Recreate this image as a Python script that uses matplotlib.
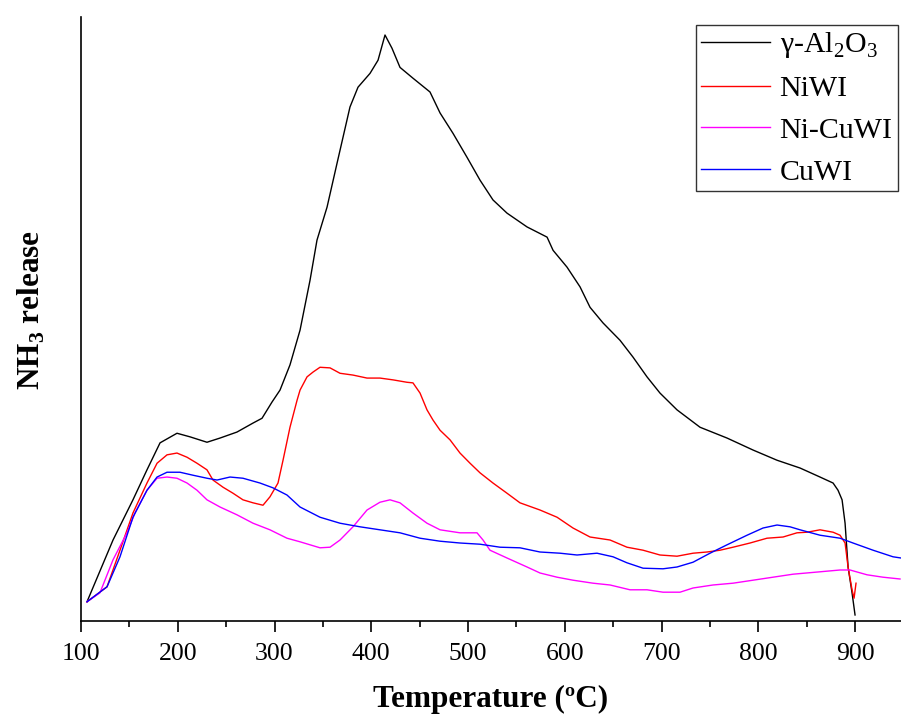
import numpy as np
import matplotlib.pyplot as plt
from matplotlib.ticker import MultipleLocator

plt.rcParams['font.family'] = ['Liberation Serif', 'DejaVu Serif']
plt.rcParams['mathtext.fontset'] = 'custom'
plt.rcParams['mathtext.rm'] = 'Liberation Serif'
plt.rcParams['mathtext.bf'] = 'Liberation Serif:bold'

# TPD profiles, NH3 signal in arbitrary units
T_al2o3 = [106.2, 133.1, 153.7, 168.2, 181.7, 199.2, 212.7, 230.2, 243.7, 261.2,
           277.8, 287.1, 297.4, 305.7, 316.0, 326.4, 336.7, 343.9, 354.3, 364.6,
           378.0, 386.3, 398.7, 407.0, 414.2, 421.4, 429.7, 443.1, 460.7, 471.1,
           484.5, 499.0, 512.4, 525.8, 540.3, 561.0, 581.7, 587.9, 602.3, 615.8,
           626.1, 639.5, 657.1, 670.5, 685.0, 698.4, 716.0, 739.8, 767.7, 794.6,
           819.4, 843.2, 863.8, 877.3, 882.4, 886.6, 889.7, 892.8, 896.9, 900.0]
I_al2o3 = [3.2, 13.5, 20.2, 25.2, 29.7, 31.3, 30.7, 29.8, 30.5, 31.5,
           33.0, 33.8, 36.5, 38.5, 42.7, 48.5, 56.8, 63.5, 69.0, 76.3,
           85.7, 89.0, 91.3, 93.5, 97.7, 95.5, 92.3, 90.5, 88.2, 84.7,
           81.3, 77.3, 73.5, 70.2, 68.0, 65.7, 64.0, 61.8, 59.0, 55.7,
           52.3, 49.7, 46.8, 44.0, 40.7, 38.0, 35.2, 32.3, 30.5, 28.5,
           26.8, 25.5, 24.0, 23.0, 21.8, 20.2, 16.3, 9.0, 4.7, 1.0]

T_ni = [106.2, 126.9, 140.3, 153.7, 168.2, 178.6, 188.9, 199.2, 209.6, 219.9,
        230.2, 236.4, 246.8, 257.1, 267.4, 277.8, 288.1, 295.3, 303.6, 308.8,
        316.0, 323.3, 326.4, 333.6, 339.8, 347.0, 357.4, 367.7, 381.1, 395.6,
        409.0, 422.5, 436.9, 443.1, 450.4, 457.6, 463.8, 471.1, 481.4, 491.7,
        502.1, 512.4, 525.8, 540.3, 553.7, 574.4, 592.0, 608.5, 626.1, 646.8,
        664.3, 680.9, 698.4, 716.0, 732.6, 747.0, 760.5, 773.9, 791.5, 809.0,
        825.6, 840.0, 850.4, 863.8, 877.3, 884.5, 889.7, 892.8, 896.9, 899.0, 901.0]
I_ni = [3.2, 5.7, 11.8, 18.0, 23.0, 26.3, 27.7, 28.0, 27.3, 26.3,
        25.2, 23.5, 22.3, 21.3, 20.2, 19.7, 19.3, 20.7, 23.0, 26.8,
        32.3, 36.8, 38.5, 40.7, 41.5, 42.3, 42.2, 41.3, 41.0, 40.5,
        40.5, 40.2, 39.8, 39.7, 38.0, 35.2, 33.5, 31.8, 30.2, 28.0,
        26.3, 24.7, 23.0, 21.3, 19.7, 18.5, 17.3, 15.5, 14.0, 13.5,
        12.3, 11.8, 11.0, 10.8, 11.3, 11.5, 11.8, 12.3, 13.0, 13.8,
        14.0, 14.7, 14.8, 15.2, 14.8, 14.3, 13.0, 9.0, 5.2, 3.8, 6.3]

T_nicu = [106.2, 119.6, 133.1, 147.5, 155.8, 168.2, 178.6, 188.9, 199.2, 209.6,
          219.9, 230.2, 243.7, 261.2, 277.8, 295.3, 312.9, 326.4, 347.0, 357.4,
          367.7, 381.1, 395.6, 409.0, 419.4, 429.7, 443.1, 457.6, 471.1, 491.7,
          509.3, 515.5, 522.7, 540.3, 561.0, 574.4, 592.0, 608.5, 629.2, 646.8,
          667.4, 685.0, 701.5, 719.1, 732.6, 753.2, 773.9, 794.6, 815.2, 835.9,
          863.8, 884.5, 894.8, 912.4, 928.9, 946.5]
I_nicu = [3.2, 4.7, 10.2, 14.7, 18.0, 21.8, 23.8, 24.0, 23.8, 23.0,
          21.8, 20.2, 19.0, 17.7, 16.3, 15.2, 13.8, 13.2, 12.2, 12.3,
          13.5, 15.7, 18.5, 19.8, 20.2, 19.7, 18.0, 16.3, 15.2, 14.7,
          14.7, 13.5, 11.8, 10.5, 9.0, 8.0, 7.3, 6.8, 6.3, 6.0,
          5.2, 5.2, 4.8, 4.8, 5.5, 6.0, 6.3, 6.8, 7.3, 7.8,
          8.2, 8.5, 8.5, 7.7, 7.3, 7.0]

T_cu = [106.2, 126.9, 140.3, 153.7, 168.2, 178.6, 188.9, 202.3, 215.8, 230.2,
        240.6, 254.0, 267.4, 285.0, 298.4, 312.9, 326.4, 347.0, 367.7, 388.4,
        409.0, 429.7, 450.4, 471.1, 491.7, 512.4, 533.1, 553.7, 574.4, 595.1,
        612.7, 633.3, 649.9, 664.3, 680.9, 701.5, 716.0, 732.6, 750.1, 767.7,
        788.4, 804.9, 819.4, 832.8, 843.2, 863.8, 884.5, 897.9, 918.6, 939.3, 947.5]
I_cu = [3.2, 5.7, 10.7, 17.3, 21.8, 24.0, 24.8, 24.8, 24.3, 23.8,
        23.5, 24.0, 23.8, 23.0, 22.2, 21.0, 19.0, 17.3, 16.3, 15.7,
        15.2, 14.7, 13.8, 13.3, 13.0, 12.8, 12.3, 12.2, 11.5, 11.3,
        11.0, 11.3, 10.7, 9.7, 8.8, 8.7, 9.0, 9.8, 11.3, 12.7,
        14.3, 15.5, 16.0, 15.7, 15.2, 14.3, 13.8, 13.0, 11.8, 10.7, 10.5]

fig = plt.figure(figsize=(9.01, 7.15), dpi=100)
ax = fig.add_axes([0.0899, 0.1315, 0.9101, 0.8447])

ax.plot(T_al2o3, I_al2o3, color='black', lw=1.0, label=r'γ-Al$_2$O$_3$')
ax.plot(T_ni, I_ni, color='#ff0000', lw=1.0, label='NiWI')
ax.plot(T_nicu, I_nicu, color='#ff00ff', lw=1.0, label='Ni-CuWI')
ax.plot(T_cu, I_cu, color='#0000ff', lw=1.0, label='CuWI')

ax.set_xlim(100, 947.5)
ax.set_ylim(0, 100.7)
ax.spines['top'].set_visible(False)
ax.spines['right'].set_visible(False)
for s in ['left', 'bottom']:
    ax.spines[s].set_linewidth(1.2)

ax.set_xticks(np.arange(100, 1000, 100))
ax.xaxis.set_minor_locator(MultipleLocator(50))
ax.tick_params(axis='x', which='major', length=8, width=1.2, labelsize=18.5, pad=8)
ax.tick_params(axis='x', which='minor', length=4.5, width=1.2)
ax.set_yticks([])

ax.set_xlabel('Temperature (ºC)', fontsize=22.5, fontweight='bold', va='center')
ax.xaxis.set_label_coords(0.5, -0.130)
ax.set_ylabel(r'NH$_\mathbf{3}$ release', fontsize=22.5, fontweight='bold', va='center')
ax.yaxis.set_label_coords(-0.061, 0.515)

leg = ax.legend(loc='upper left', bbox_to_anchor=(0.7500, 0.987), fontsize=21.5,
                frameon=True, fancybox=False, handlelength=2.3, handletextpad=0.32,
                labelspacing=0.5, borderpad=0.18, borderaxespad=0)
leg.get_frame().set_edgecolor('black')
leg.get_frame().set_linewidth(1.0)

plt.savefig('out.png', dpi=100)
